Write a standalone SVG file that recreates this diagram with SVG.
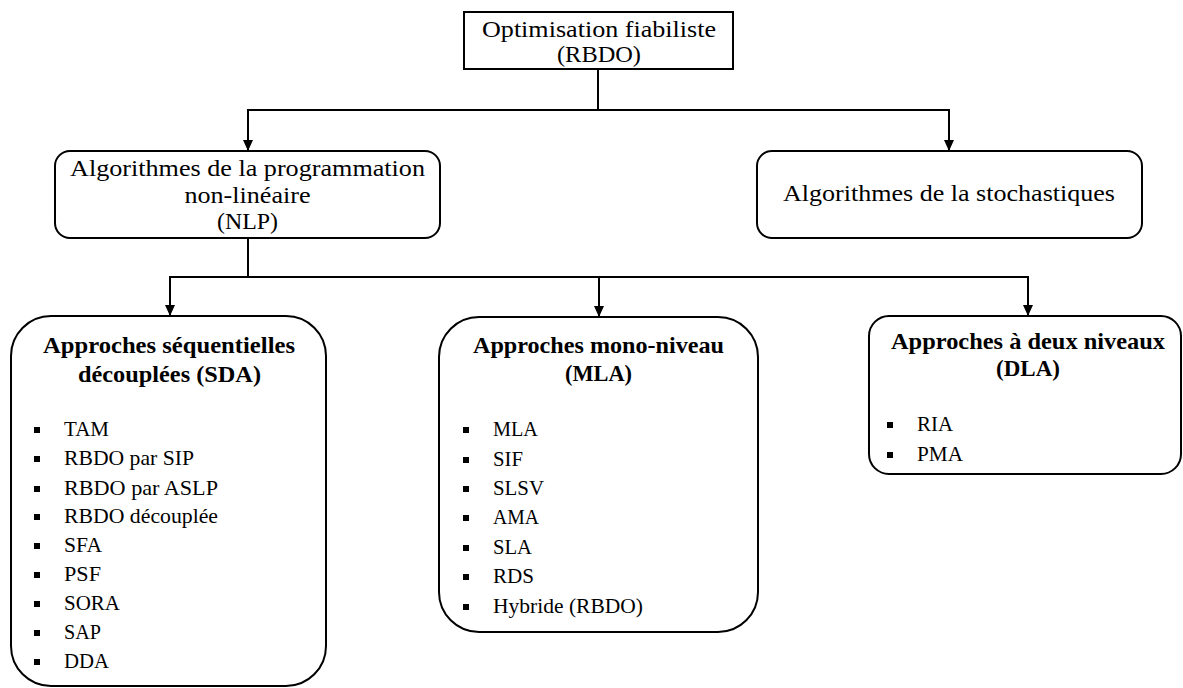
<svg xmlns="http://www.w3.org/2000/svg" width="1183" height="688" viewBox="0 0 1183 688">
<style>
.box{fill:#fff;stroke:#000;stroke-width:2}
.con{fill:none;stroke:#000;stroke-width:2}
text{font-family:'Liberation Serif','DejaVu Serif',serif;fill:#000}
.t{font-size:24px;text-anchor:middle}
.b{font-size:23px;font-weight:bold;text-anchor:middle}
.i{font-size:21px}
.bul{fill:#000}
</style>
<defs>
<marker id="arr" markerUnits="userSpaceOnUse" markerWidth="10" markerHeight="11" refX="5" refY="11" orient="0" viewBox="0 0 10 11">
<path d="M0,0 L10,0 L5,11 z" fill="#000"/>
</marker>
</defs>
<rect width="1183" height="688" fill="#fff"/>
<g id="connectors">
<path class="con" d="M598,69 V110"/>
<path class="con" d="M598,110 H248 V151" marker-end="url(#arr)"/>
<path class="con" d="M598,110 H949 V151" marker-end="url(#arr)"/>
<path class="con" d="M248,238 V277"/>
<path class="con" d="M248,277 H170 V316" marker-end="url(#arr)"/>
<path class="con" d="M248,277 H1028 V316" marker-end="url(#arr)"/>
<path class="con" d="M599,277 V317" marker-end="url(#arr)"/>
</g>
<g id="rbdo">
<rect class="box" x="464" y="12" width="269" height="57"/>
<text class="t" x="599" y="37" textLength="234" lengthAdjust="spacingAndGlyphs">Optimisation fiabiliste</text>
<text class="t" x="599" y="62" textLength="84" lengthAdjust="spacingAndGlyphs">(RBDO)</text>
</g>
<g id="nlp">
<rect class="box" x="55" y="151" width="385" height="87" rx="15"/>
<text class="t" x="247.5" y="176" textLength="355" lengthAdjust="spacingAndGlyphs">Algorithmes de la programmation</text>
<text class="t" x="247.5" y="203" textLength="126" lengthAdjust="spacingAndGlyphs">non-linéaire</text>
<text class="t" x="247.5" y="229" textLength="61" lengthAdjust="spacingAndGlyphs">(NLP)</text>
</g>
<g id="stoch">
<rect class="box" x="757" y="151" width="385" height="87" rx="15"/>
<text class="t" x="949" y="201" textLength="332" lengthAdjust="spacingAndGlyphs">Algorithmes de la stochastiques</text>
</g>
<g id="sda">
<rect class="box" x="11" y="316" width="315" height="370" rx="40"/>
<text class="b" x="169" y="353" textLength="252" lengthAdjust="spacingAndGlyphs">Approches séquentielles</text>
<text class="b" x="169.5" y="382" textLength="183" lengthAdjust="spacingAndGlyphs">découplées (SDA)</text>
<rect class="bul" x="34" y="427" width="6" height="6"/><text class="i" x="64" y="436" textLength="45" lengthAdjust="spacingAndGlyphs">TAM</text>
<rect class="bul" x="34" y="456" width="6" height="6"/><text class="i" x="64" y="465" textLength="130" lengthAdjust="spacingAndGlyphs">RBDO par SIP</text>
<rect class="bul" x="34" y="486" width="6" height="6"/><text class="i" x="64" y="495" textLength="154" lengthAdjust="spacingAndGlyphs">RBDO par ASLP</text>
<rect class="bul" x="34" y="514" width="6" height="6"/><text class="i" x="64" y="523" textLength="154" lengthAdjust="spacingAndGlyphs">RBDO découplée</text>
<rect class="bul" x="34" y="543" width="6" height="6"/><text class="i" x="64" y="552" textLength="38" lengthAdjust="spacingAndGlyphs">SFA</text>
<rect class="bul" x="34" y="572" width="6" height="6"/><text class="i" x="64" y="581" textLength="37" lengthAdjust="spacingAndGlyphs">PSF</text>
<rect class="bul" x="34" y="601" width="6" height="6"/><text class="i" x="64" y="610" textLength="56" lengthAdjust="spacingAndGlyphs">SORA</text>
<rect class="bul" x="34" y="630" width="6" height="6"/><text class="i" x="64" y="639" textLength="37" lengthAdjust="spacingAndGlyphs">SAP</text>
<rect class="bul" x="34" y="659" width="6" height="6"/><text class="i" x="64" y="668" textLength="45" lengthAdjust="spacingAndGlyphs">DDA</text>
</g>
<g id="mla">
<rect class="box" x="439" y="317" width="319" height="315" rx="40"/>
<text class="b" x="598.5" y="353" textLength="251" lengthAdjust="spacingAndGlyphs">Approches mono-niveau</text>
<text class="b" x="598.5" y="381" textLength="67" lengthAdjust="spacingAndGlyphs">(MLA)</text>
<rect class="bul" x="463" y="427" width="6" height="6"/><text class="i" x="493" y="436" textLength="45" lengthAdjust="spacingAndGlyphs">MLA</text>
<rect class="bul" x="463" y="457" width="6" height="6"/><text class="i" x="493" y="466" textLength="30" lengthAdjust="spacingAndGlyphs">SIF</text>
<rect class="bul" x="463" y="486" width="6" height="6"/><text class="i" x="493" y="495" textLength="51" lengthAdjust="spacingAndGlyphs">SLSV</text>
<rect class="bul" x="463" y="515" width="6" height="6"/><text class="i" x="493" y="524" textLength="46" lengthAdjust="spacingAndGlyphs">AMA</text>
<rect class="bul" x="463" y="545" width="6" height="6"/><text class="i" x="493" y="554" textLength="39" lengthAdjust="spacingAndGlyphs">SLA</text>
<rect class="bul" x="463" y="574" width="6" height="6"/><text class="i" x="493" y="583" textLength="41" lengthAdjust="spacingAndGlyphs">RDS</text>
<rect class="bul" x="463" y="604" width="6" height="6"/><text class="i" x="493" y="613" textLength="150" lengthAdjust="spacingAndGlyphs">Hybride (RBDO)</text>
</g>
<g id="dla">
<rect class="box" x="869" y="316" width="312" height="158" rx="20"/>
<text class="b" x="1028" y="349" textLength="274" lengthAdjust="spacingAndGlyphs">Approches à deux niveaux</text>
<text class="b" x="1028" y="376" textLength="64" lengthAdjust="spacingAndGlyphs">(DLA)</text>
<rect class="bul" x="887" y="422" width="6" height="6"/><text class="i" x="917" y="431" textLength="36" lengthAdjust="spacingAndGlyphs">RIA</text>
<rect class="bul" x="887" y="452" width="6" height="6"/><text class="i" x="917" y="461" textLength="46" lengthAdjust="spacingAndGlyphs">PMA</text>
</g>
</svg>
